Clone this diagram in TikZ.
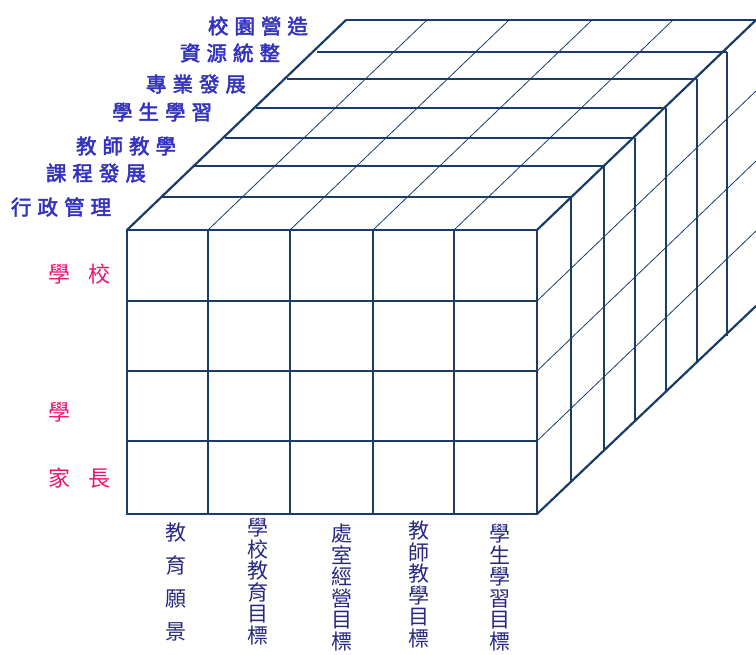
\documentclass[tikz,border=0pt]{standalone}
\usepackage{fontspec}
\newfontfamily\cjk{Noto Sans CJK TC}
\newfontfamily\cjkb[FakeBold=2.5]{Noto Sans CJK TC}
\definecolor{navy}{RGB}{25,60,105}
\definecolor{lblblue}{RGB}{50,50,190}
\definecolor{lblred}{RGB}{235,20,110}
\definecolor{lblbot}{RGB}{40,40,130}
\newcommand\ls{\kern6pt}
\begin{document}
\begin{tikzpicture}[x=1pt,y=-1pt,
  edge/.style={draw=navy,line width=2.2pt,line join=miter},
  gridln/.style={draw=navy,line width=1.2pt},
  thinln/.style={draw=navy,line width=0.8pt},
  toplbl/.style={font=\cjkb\fontsize{20.5}{20.5}\selectfont,text=lblblue,inner sep=0pt},
  sidelbl/.style={font=\cjk\fontsize{22}{22}\selectfont,text=lblred,inner sep=0pt},
  botlbl/.style={font=\cjk\fontsize{21}{21.5}\selectfont,text=lblbot,inner sep=0pt,align=center,anchor=north}]
\useasboundingbox (0,0) rectangle (756,655);
\begin{scope}
\clip (0,0) rectangle (756,655);
% top face layers
\foreach \dx/\dy in {34/33,67/64,98/92,129/122,160/151,190/178,219/210}
  \draw[gridln] ({127+\dx},{230-\dy}) -- ({537+\dx},{230-\dy});
% right face verticals
\foreach \dx/\dy in {34/33,67/64,98/92,129/122,160/151,190/178}
  \draw[gridln] ({537+\dx},{230-\dy}) -- ({537+\dx},{514-\dy});
% top face diagonals
\foreach \x in {208,290,373,454}
  \draw[thinln] (\x,230) -- ({\x+219},20);
% right face diagonals
\foreach \y in {301,371,441}
  \draw[thinln] (537,\y) -- (756,{\y-210});
% front grid
\foreach \x in {208,290,373,454}
  \draw[gridln] (\x,230) -- (\x,514);
\foreach \y in {301,371,441}
  \draw[gridln] (127,\y) -- (537,\y);
% outer edges
\draw[edge] (127,230) rectangle (537,514);
\draw[edge] (127,230) -- (346,20);
\draw[edge] (537,230) -- (756,20);
\draw[edge] (537,514) -- (756,306);
\end{scope}
% top labels
\node[toplbl] (l7) at (258,26) {校\ls 園\ls 營\ls 造};
\node[toplbl] (l6) at (230,53) {資\ls 源\ls 統\ls 整};
\node[toplbl] (l5) at (196,84) {專\ls 業\ls 發\ls 展};
\node[toplbl] (l4) at (162,112) {學\ls 生\ls 學\ls 習};
\node[toplbl] (l3) at (126,146) {教\ls 師\ls 教\ls 學};
\node[toplbl] (l2) at (96,173) {課\ls 程\ls 發\ls 展};
\node[toplbl] (l1) at (61,207) {行\ls 政\ls 管\ls 理};
% side labels
\node[sidelbl] (s1) at (79.5,274) {學\kern19pt 校};
\node[sidelbl] (s2) at (59,412) {學};
\node[sidelbl] (s3) at (79.5,478) {家\kern19pt 長};
% bottom labels
\node[botlbl,font=\cjk\fontsize{21}{33}\selectfont] (b1) at (176,523) {教\\育\\願\\景};
\node[botlbl] (b2) at (258,518) {學\\校\\教\\育\\目\\標};
\node[botlbl] (b3) at (342,524) {處\\室\\經\\營\\目\\標};
\node[botlbl] (b4) at (419,521) {教\\師\\教\\學\\目\\標};
\node[botlbl] (b5) at (500,524) {學\\生\\學\\習\\目\\標};
\end{tikzpicture}
\end{document}
